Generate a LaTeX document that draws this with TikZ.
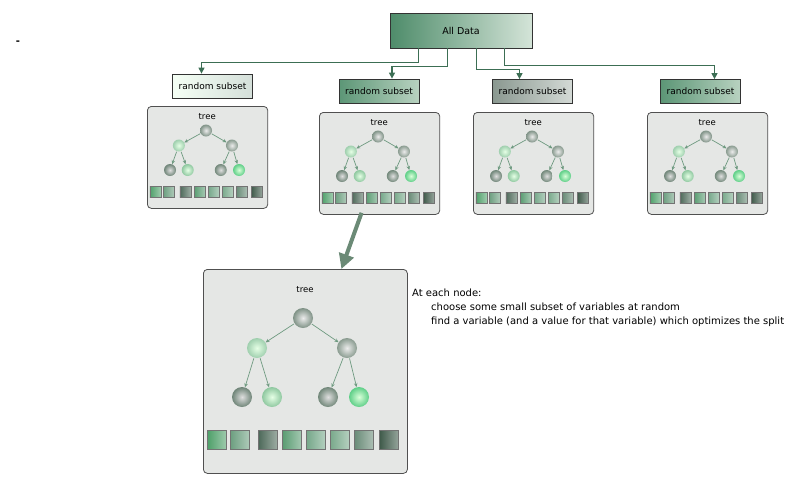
\documentclass[tikz,border=0pt]{standalone}
\usepackage{fontspec}
\setmainfont{DejaVu Sans}
\usetikzlibrary{arrows.meta, positioning}
\definecolor{conngreen}{HTML}{3C6E54}
\definecolor{edgegreen}{HTML}{6E9A80}
\definecolor{arrowgray}{HTML}{6B8A76}
\definecolor{panelfill}{HTML}{E5E7E5}
\definecolor{panelborder}{HTML}{505050}
\definecolor{datadark}{HTML}{4E8C6A}
\definecolor{datalight}{HTML}{D4E4D8}
\definecolor{subdark}{HTML}{5C9676}
\definecolor{sublight}{HTML}{B8D2C0}
\definecolor{subgray}{HTML}{8A9890}
\definecolor{subgraylight}{HTML}{D4DAD6}
\definecolor{sqa}{HTML}{4FA06A}
\definecolor{sqb}{HTML}{6D9F80}
\definecolor{sqc}{HTML}{4E6A5A}
\definecolor{sqd}{HTML}{5A9C72}
\definecolor{sqe}{HTML}{76A88A}
\definecolor{sqf}{HTML}{7AAA8C}
\definecolor{sqg}{HTML}{6A8C78}
\definecolor{sqh}{HTML}{3F5A4A}
\definecolor{ballroot}{HTML}{7F9286}
\definecolor{balllight}{HTML}{9FCFAE}
\definecolor{ballgray}{HTML}{8A9C90}
\definecolor{balldark}{HTML}{6F8578}
\definecolor{ballpale}{HTML}{8FC8A0}
\definecolor{balldim}{HTML}{72887A}
\definecolor{ballbright}{HTML}{5FCF88}

% one panel with a small tree and its row of variables
\newcommand{\treepanel}[6]{%
  \node[panel, anchor=north west, minimum width=#3*204pt, minimum height=#4*204pt] (#1) at #2 {};
  \begin{scope}[shift={#2}, xscale=#3, yscale=#4]
    \node[lbl] (#1-t) at (102,21) {tree};
    \node[ball, minimum size=#5, inner color=white!85!gray, outer color=ballroot] (#1-r) at (100,49) {};
    \node[ball, minimum size=#5, inner color=white!90!green, outer color=balllight] (#1-a) at (54,79) {};
    \node[ball, minimum size=#5, inner color=white!85!gray, outer color=ballgray] (#1-b) at (144,79) {};
    \node[ball, minimum size=#5, inner color=white!75!gray, outer color=balldark] (#1-aa) at (39,128) {};
    \node[ball, minimum size=#5, inner color=white!90!green, outer color=ballpale] (#1-ab) at (69,128) {};
    \node[ball, minimum size=#5, inner color=white!75!gray, outer color=balldim] (#1-ba) at (125,128) {};
    \node[ball, minimum size=#5, inner color=white!85!green, outer color=ballbright] (#1-bb) at (156,128) {};
    \draw[edgearr] (#1-r) -- (#1-a);
    \draw[edgearr] (#1-r) -- (#1-b);
    \draw[edgearr] (#1-a) -- (#1-aa);
    \draw[edgearr] (#1-a) -- (#1-ab);
    \draw[edgearr] (#1-b) -- (#1-ba);
    \draw[edgearr] (#1-b) -- (#1-bb);
    \foreach \k/\px/\c in {1/14/sqa, 2/37/sqb, 3/65/sqc, 4/89/sqd, 5/113/sqe, 6/137/sqf, 7/161/sqg, 8/186/sqh}
      \node[sq, minimum size=#6, left color=\c, right color=\c!55!white] (#1-s\k) at (\px,171) {};
  \end{scope}}

\begin{document}
\begin{tikzpicture}[
  x=1pt, y=-1pt,
  font=\fontsize{9}{11}\selectfont,
  box/.style={draw=black!80, line width=0.8pt, minimum width=80pt, minimum height=24pt, inner sep=2pt},
  panel/.style={draw=panelborder, fill=panelfill, rounded corners=4pt, line width=0.8pt, inner sep=0pt},
  lbl/.style={font=\fontsize{8.5}{10}\selectfont, inner sep=1pt},
  ball/.style={circle, inner sep=0pt},
  sq/.style={draw=black!55, line width=0.5pt, inner sep=0pt},
  edgearr/.style={draw=edgegreen, line width=0.7pt, -{Stealth[length=4pt, width=3.5pt]}, shorten <=0.5pt},
  conn/.style={draw=conngreen, line width=1.3pt, -{Triangle[length=6pt, width=6pt]}},
  bigarr/.style={draw=arrowgray, line width=4pt, -{Triangle[length=15pt, width=15pt]}},
]
\useasboundingbox (0,0) rectangle (804,491);

\node[inner sep=0pt, font=\fontsize{10}{12}\selectfont\bfseries] (dash) at (18,43) {-};

\node[box, minimum width=142pt, minimum height=35pt, left color=datadark, right color=datalight, font=\fontsize{9.5}{11}\selectfont] (data) at (461,30.5) {All Data};

\node[box, left color=white!96!green, right color=white!78!conngreen] (rs1) at (212.5,86) {random subset};
\node[box, left color=subdark, right color=sublight] (rs2) at (379,91) {random subset};
\node[box, left color=subgray, right color=subgraylight] (rs3) at (532.5,91.5) {random subset};
\node[box, left color=subdark, right color=sublight] (rs4) at (700.5,91.5) {random subset};

\draw[conn] ([xshift=29pt]data.south west) -- ++(0,14) -| ([xshift=-11pt]rs1.north);
\draw[conn] ([xshift=58pt]data.south west) -- ++(0,18) -| ([xshift=13pt]rs2.north);
\draw[conn] ([xshift=87pt]data.south west) -- ++(0,21) -| ([xshift=-13pt]rs3.north);
\draw[conn] ([xshift=115pt]data.south west) -- ++(0,17) -| ([xshift=14pt]rs4.north);

\treepanel{p1}{(147,106)}{0.59}{0.5}{12pt}{11pt}
\treepanel{p2}{(319,112)}{0.59}{0.5}{12pt}{11pt}
\treepanel{p3}{(473,112)}{0.59}{0.5}{12pt}{11pt}
\treepanel{p4}{(647,112)}{0.59}{0.5}{12pt}{11pt}
\treepanel{pbig}{(203,269)}{1}{1}{20pt}{19pt}

\draw[bigarr] ([xshift=-18pt, yshift=2pt]p2.south) -- ([xshift=36pt]pbig.north);

\node[anchor=north west, align=left, inner sep=0pt, font=\fontsize{10}{14}\selectfont] (note) at (412,289)
  {At each node:\\
   \hspace*{19pt}choose some small subset of variables at random\\
   \hspace*{19pt}find a variable (and a value for that variable) which optimizes the split};
\end{tikzpicture}
\end{document}
